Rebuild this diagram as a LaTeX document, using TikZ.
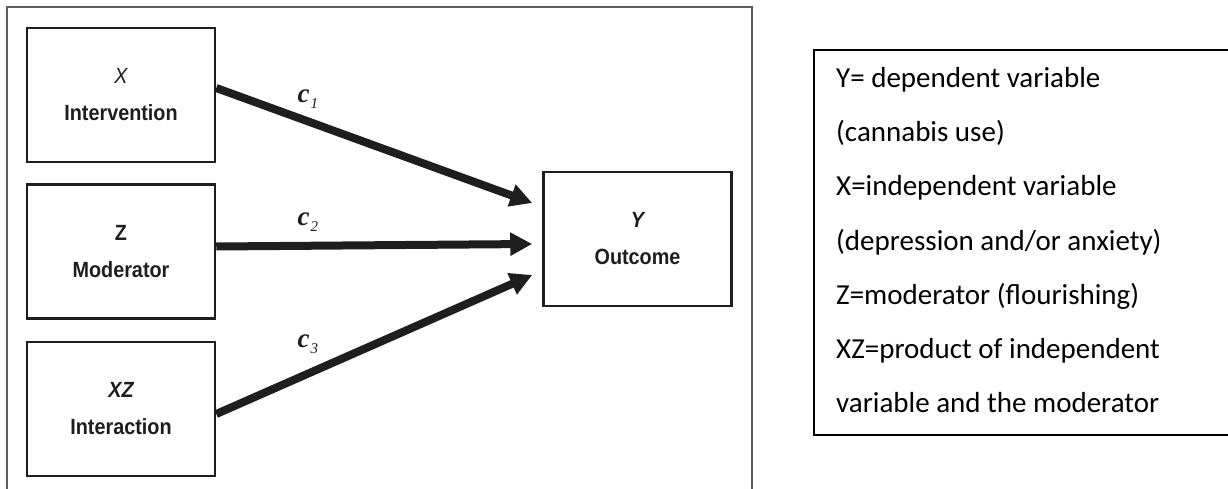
\documentclass[tikz,border=0pt]{standalone}
\usepackage{fontspec}
\usetikzlibrary{arrows.meta,positioning}
\newfontfamily\boxfont[FakeStretch=0.9]{Liberation Sans}
\newfontfamily\coeffont{Liberation Serif}
\newfontfamily\legendfont{Carlito}
\definecolor{FigBlack}{RGB}{30,30,30}
\definecolor{FigGray}{RGB}{95,95,95}
\newcommand{\coef}[1]{{\fontsize{27}{27}\selectfont\bfseries\itshape c}\kern1pt\raisebox{-6pt}{\fontsize{15}{15}\selectfont\itshape #1}}

\tikzset{
  varbox/.style={draw=FigBlack, line width=2.5pt, minimum width=188pt, minimum height=134pt, align=center, text=FigBlack, font=\boxfont\bfseries\fontsize{22}{37}\selectfont},
  patharrow/.style={draw=FigBlack, line width=8pt, -{Triangle[length=22pt,width=22pt]}},
  coeflabel/.style={font=\coeffont, text=FigBlack, inner sep=0pt, pos=0.29},
  legendline/.style={font=\legendfont\fontsize{29}{29}\selectfont, anchor=base west, inner sep=0pt}
}

\begin{document}
\begin{tikzpicture}[x=1pt, y=-1pt]
\clip (0,0) rectangle (1228,489);
%Frame
\draw[FigGray, line width=1.6pt] (7,7) rectangle (752,520);
%Variables
\node[varbox] (X) at (121,95) {\mdseries\itshape X\\Intervention};
\node[varbox, below=20pt of X] (Z) {Z\\Moderator};
\node[varbox, below=21pt of Z] (XZ) {\itshape XZ\\\upshape Interaction};
\node[varbox] (Y) at (637.5,239) {\itshape Y\\\upshape Outcome};
%Paths
\draw[patharrow] ([yshift=7pt]X.east) -- ([xshift=-10pt,yshift=36pt]Y.west) node[coeflabel, yshift=22pt] (c1) {\coef{1}};
\draw[patharrow] ([yshift=5pt]Z.east) -- ([xshift=-10pt,yshift=-5pt]Y.west) node[coeflabel, yshift=24pt] (c2) {\coef{2}};
\draw[patharrow] ([yshift=-5pt]XZ.east) -- ([xshift=-10pt,yshift=-36pt]Y.west) node[coeflabel, yshift=29pt] (c3) {\coef{3}};
%Legend
\draw[black, line width=1.6pt] (814,50) rectangle (1240,435);
\foreach \txt [count=\i] in {Y= dependent variable, (cannabis use), X=independent variable, (depression and/or anxiety), Z=moderator (flourishing), XZ=product of independent, variable and the moderator}
  \node[legendline] (leg\i) at (836,{88+54*(\i-1)}) {\txt};
\end{tikzpicture}
\end{document}
